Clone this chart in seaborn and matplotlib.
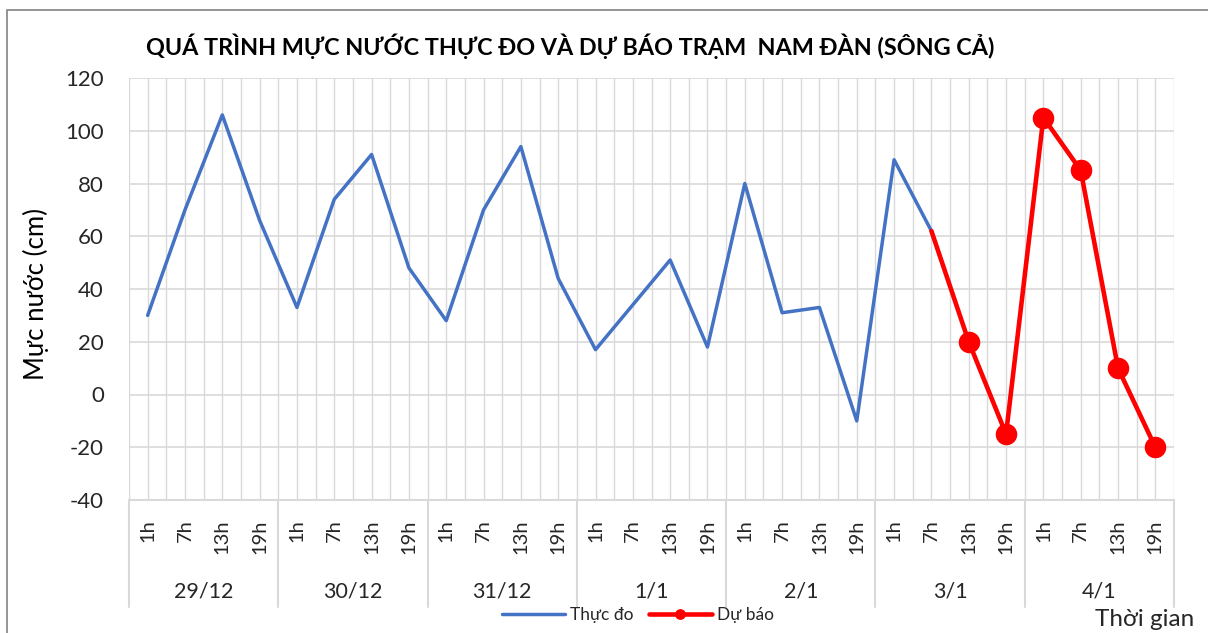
import matplotlib
matplotlib.use("Agg")
import matplotlib.pyplot as plt
import matplotlib.transforms as mtransforms
from matplotlib.patches import Rectangle
import seaborn as sns
import pandas as pd
import numpy as np

# ---- data ----
days = ["29/12", "30/12", "31/12", "1/1", "2/1", "3/1", "4/1"]
hours = ["1h", "7h", "13h", "19h"]
observed = [30, 70, 106, 66,
            33, 74, 91, 48,
            28, 70, 94, 44,
            17, 34, 51, 18,
            80, 31, 33, -10,
            89, 62]
forecast_start = 21
forecast = [62, 20, -15, 105, 85, 10, -20]
yticks = [-40, -20, 0, 20, 40, 60, 80, 100, 120]

title = "QUÁ TRÌNH MỰC NƯỚC THỰC ĐO VÀ DỰ BÁO TRẠM  NAM ĐÀN (SÔNG CẢ)"
ylabel = "Mực nước (cm)"
xlabel = "Thời gian"
obs_label = "Thực đo"
fc_label = "Dự báo"

# ---- style ----
sns.set_style("white")
plt.rcParams["font.family"] = ["Lato", "DejaVu Sans"]
txt = "#262626"
grid = "#d9d9d9"

W, H = 1208, 633
fig = plt.figure(figsize=(W / 100, H / 100), dpi=100)
L, R, T, B = 129, 1174, 78, 500
ax = fig.add_axes([L / W, 1 - B / H, (R - L) / W, (B - T) / H])

n_cat = len(days) * len(hours)
df_obs = pd.DataFrame({"x": np.arange(len(observed)), "y": observed})
df_fc = pd.DataFrame({"x": np.arange(forecast_start, forecast_start + len(forecast)), "y": forecast})

sns.lineplot(data=df_obs, x="x", y="y", ax=ax, color="#4472C4", lw=2.5,
             label=obs_label, zorder=3)
sns.lineplot(data=df_fc, x="x", y="y", ax=ax, color="#FF0000", lw=3.3,
             marker="o", markersize=15.5, markeredgewidth=0,
             markevery=list(range(1, len(forecast))), label=fc_label, zorder=4)

ax.set_xlim(-0.5, n_cat - 0.5)
ax.set_ylim(yticks[0], yticks[-1])
ax.set_yticks(yticks)
ax.set_yticklabels([str(v) for v in yticks], fontsize=16, color=txt)

# vertical gridlines at every half category
for gx in np.arange(-0.5, n_cat, 0.5):
    ax.axvline(gx, color=grid, lw=1, zorder=0)
for gy in yticks:
    ax.axhline(gy, color=grid, lw=1.2, zorder=0)

for s in ax.spines.values():
    s.set_visible(False)
ax.set_xticks(range(n_cat))
ax.set_xticklabels(hours * len(days), rotation=90, fontsize=14.5, color=txt, va="top")
ax.tick_params(axis="x", length=0, pad=14)
ax.tick_params(axis="y", length=0, pad=18)
ax.set_xlabel("")
ax.set_ylabel("")

# category table below axis
trans = mtransforms.blended_transform_factory(ax.transData, ax.transAxes)
bot = (B - 607) / (B - T)
ax.plot([-0.5, n_cat - 0.5], [0, 0], transform=trans, color=grid, lw=1.5, clip_on=False)
for i in range(len(days) + 1):
    bx = i * len(hours) - 0.5
    ax.plot([bx, bx], [0, bot], transform=trans, color=grid, lw=1.5, clip_on=False)
day_y = (B - 591) / (B - T)
for i, d in enumerate(days):
    cx = i * len(hours) + (len(hours) - 1) / 2
    ax.text(cx, day_y, d, transform=trans, ha="center", va="center", fontsize=15.5, color=txt)

ax.get_legend().remove()
handles, labels = ax.get_legend_handles_labels()
fig.legend(handles, labels, loc="center", bbox_to_anchor=(638 / W, 1 - 615 / H),
           ncol=2, frameon=False, fontsize=12.5, handlelength=3.6, handletextpad=0.3,
           columnspacing=0.9, labelcolor=txt, markerscale=0.5)

fig.text(570 / W, 1 - 46 / H, title, ha="center", va="center", fontsize=16.8,
         fontweight="bold", color="#000000")
fig.text(36 / W, 1 - 294 / H, ylabel, rotation=90, ha="center", va="center",
         fontsize=18.5, color="#000000")
fig.text(1194 / W, 1 - 619 / H, xlabel, ha="right", va="center", fontsize=17.5, color=txt)

# outer chart border
fig.patches.append(Rectangle((7 / W, -0.1), 1.2, 1 - 10 / H + 0.1, transform=fig.transFigure,
                             fill=False, edgecolor="#8c8c8c", lw=1.3))

fig.savefig("out.png", dpi=100, facecolor="white")
